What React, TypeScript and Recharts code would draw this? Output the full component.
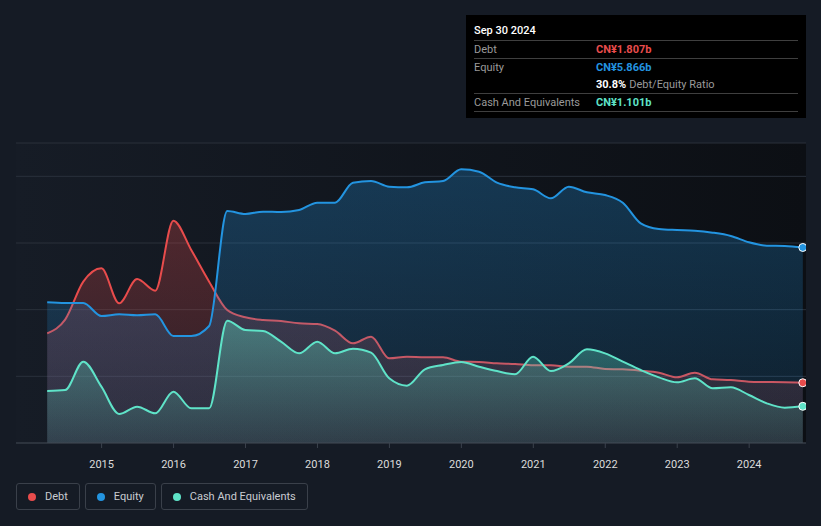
import React from 'react'
import { ComposedChart, Area, XAxis, YAxis, CartesianGrid } from 'recharts'

// Quarter-end dates of the balance sheet snapshots
const DATES = [
  '2014-03-31', '2014-06-30', '2014-09-30', '2014-12-31',
  '2015-03-31', '2015-06-30', '2015-09-30', '2015-12-31',
  '2016-03-31', '2016-06-30', '2016-09-30', '2016-12-31',
  '2017-03-31', '2017-06-30', '2017-09-30', '2017-12-31',
  '2018-03-31', '2018-06-30', '2018-09-30', '2018-12-31',
  '2019-03-31', '2019-06-30', '2019-09-30', '2019-12-31',
  '2020-03-31', '2020-06-30', '2020-09-30', '2020-12-31',
  '2021-03-31', '2021-06-30', '2021-09-30', '2021-12-31',
  '2022-03-31', '2022-06-30', '2022-09-30', '2022-12-31',
  '2023-03-31', '2023-06-30', '2023-09-30', '2023-12-31',
  '2024-03-31', '2024-06-30', '2024-09-30',
]

// values in CN¥ billions
const DEBT = [
  3.29, 3.7, 4.84, 5.24, 4.19, 4.92, 4.57, 6.67, 5.79, 4.84, 3.99, 3.77,
  3.69, 3.66, 3.59, 3.57, 3.37, 2.99, 3.19, 2.54, 2.59, 2.57, 2.57, 2.44,
  2.43, 2.39, 2.37, 2.33, 2.33, 2.29, 2.29, 2.22, 2.21, 2.17, 2.11, 1.97,
  2.11, 1.91, 1.89, 1.84, 1.83, 1.82, 1.807,
]
const EQUITY = [
  4.22, 4.2, 4.2, 3.81, 3.86, 3.83, 3.86, 3.21, 3.21, 3.51, 6.96, 6.87,
  6.94, 6.93, 6.99, 7.21, 7.21, 7.81, 7.86, 7.69, 7.67, 7.82, 7.86, 8.21,
  8.14, 7.81, 7.67, 7.61, 7.34, 7.69, 7.52, 7.44, 7.21, 6.59, 6.42, 6.39,
  6.37, 6.31, 6.21, 6.02, 5.92, 5.91, 5.866,
]
const CASH = [
  1.56, 1.59, 2.44, 1.69, 0.87, 1.09, 0.89, 1.54, 1.04, 1.04, 3.67, 3.39,
  3.36, 3.04, 2.69, 3.04, 2.69, 2.83, 2.71, 1.94, 1.72, 2.21, 2.34, 2.43,
  2.29, 2.16, 2.06, 2.59, 2.16, 2.39, 2.81, 2.69, 2.44, 2.19, 1.97, 1.82,
  1.94, 1.64, 1.67, 1.44, 1.19, 1.06, 1.101,
]

const YEAR_TICKS = [2015, 2016, 2017, 2018, 2019, 2020, 2021, 2022, 2023, 2024]
const Y_TICKS = [0, 2, 4, 6, 8, 9]
const Y_LABELS: Record<number, string> = { 0: 'CN¥0', 9: 'CN¥9b' }

const SERIES = [
  { key: 'debt', name: 'Debt', color: '#e84c4c', top: 0.28, bottom: 0.12 },
  { key: 'equity', name: 'Equity', color: '#2394e0', top: 0.28, bottom: 0.12 },
  { key: 'cash', name: 'Cash And Equivalents', color: '#5fe3c8', top: 0.38, bottom: 0.1 },
]

const FONT = 'Roboto, "Noto Sans", sans-serif'
const BG = '#151b25'

function toYear(iso: string): number {
  const [y, m, d] = iso.split('-').map(Number)
  const start = Date.UTC(y, 0, 1)
  const end = Date.UTC(y + 1, 0, 1)
  return y + (Date.UTC(y, m - 1, d) - start) / (end - start)
}

const chartData = DATES.map((d, i) => ({
  t: toYear(d),
  debt: DEBT[i],
  equity: EQUITY[i],
  cash: CASH[i],
}))

const LAST = chartData.length - 1

function endDot(color: string) {
  return (props: any) => {
    if (props.index !== LAST) return <g key={props.index} />
    return (
      <circle key={props.index} cx={props.cx} cy={props.cy} r={4} fill={color} stroke="#ffffff" strokeWidth={1} />
    )
  }
}

function YTick(props: any) {
  const label = Y_LABELS[props.payload.value]
  if (!label) return <g />
  return (
    <text x={24} y={props.y - 8} fill="#ffffff" fontSize={11} fontFamily={FONT}>
      {label}
    </text>
  )
}

function InfoBox() {
  const row = { display: 'flex', height: 17, alignItems: 'center', borderBottom: '1px solid #3f3f3f' } as const
  const label = { width: 122, color: '#9a9a9a' }
  return (
    <div
      style={{
        position: 'absolute', left: 466, top: 15, width: 340, height: 103, background: '#000',
        boxSizing: 'border-box', padding: '0 8px 0 8px', fontFamily: FONT, fontSize: 11,
      }}
    >
      <div style={{ ...row, height: 26, paddingTop: 6, boxSizing: 'border-box', color: '#fff', fontWeight: 500 }}>
        Sep 30 2024
      </div>
      <div style={row}>
        <span style={label}>Debt</span>
        <span style={{ color: '#e84c4c', fontWeight: 700 }}>CN¥1.807b</span>
      </div>
      <div style={{ ...row, borderBottom: 'none' }}>
        <span style={label}>Equity</span>
        <span style={{ color: '#2394e0', fontWeight: 700 }}>CN¥5.866b</span>
      </div>
      <div style={row}>
        <span style={label} />
        <span style={{ color: '#fff', fontWeight: 700 }}>30.8%</span>
        <span style={{ color: '#9a9a9a', marginLeft: 3 }}>Debt/Equity Ratio</span>
      </div>
      <div style={row}>
        <span style={label}>Cash And Equivalents</span>
        <span style={{ color: '#5fe3c8', fontWeight: 700 }}>CN¥1.101b</span>
      </div>
    </div>
  )
}

function LegendBoxes() {
  return (
    <div style={{ position: 'absolute', left: 16, top: 483, display: 'flex', gap: 5, fontFamily: FONT }}>
      {SERIES.map((s) => (
        <div
          key={s.key}
          style={{
            height: 27, boxSizing: 'border-box', border: '1px solid #3a404a', borderRadius: 3,
            display: 'flex', alignItems: 'center', padding: '0 11px 0 11px', color: '#c9ccd1', fontSize: 11,
          }}
        >
          <span style={{ width: 8, height: 8, borderRadius: 4, background: s.color, marginRight: 9 }} />
          {s.name}
        </div>
      ))}
    </div>
  )
}

export default function App() {
  return (
    <div style={{ position: 'absolute', left: 0, top: 0, width: 821, height: 526, background: BG, overflow: 'hidden' }}>
      <ComposedChart width={821} height={480} data={chartData} margin={{ top: 143, right: 15, bottom: 0, left: 16 }}>
        <defs>
          <linearGradient id="plotBg" x1="0" y1="0" x2="1" y2="0">
            <stop offset="0%" stopColor="#161c26" />
            <stop offset="100%" stopColor="#0c0f14" />
          </linearGradient>
          {SERIES.map((s) => (
            <linearGradient key={s.key} id={`fill-${s.key}`} x1="0" y1="0" x2="0" y2="1">
              <stop offset="0%" stopColor={s.color} stopOpacity={s.top} />
              <stop offset="100%" stopColor={s.color} stopOpacity={s.bottom} />
            </linearGradient>
          ))}
        </defs>
        <CartesianGrid vertical={false} stroke="#2a313b" fill="url(#plotBg)" fillOpacity={1} />
        <XAxis
          dataKey="t"
          type="number"
          domain={[2013.81, 2024.79]}
          ticks={YEAR_TICKS}
          allowDataOverflow
          height={37}
          stroke="#3b424d"
          tickSize={5}
          tickMargin={12}
          tick={{ fill: '#dcdcdc', fontSize: 11, fontFamily: FONT }}
        />
        <YAxis
          type="number"
          domain={[0, 9]}
          ticks={Y_TICKS}
          width={0}
          axisLine={false}
          tickLine={false}
          tick={<YTick />}
          interval={0}
        />
        {SERIES.map((s) => (
          <Area
            key={s.key}
            type="monotone"
            dataKey={s.key}
            stroke={s.color}
            strokeWidth={2}
            fill={`url(#fill-${s.key})`}
            fillOpacity={1}
            dot={endDot(s.color)}
            activeDot={false}
            isAnimationActive={false}
          />
        ))}
      </ComposedChart>
      <InfoBox />
      <LegendBoxes />
    </div>
  )
}
